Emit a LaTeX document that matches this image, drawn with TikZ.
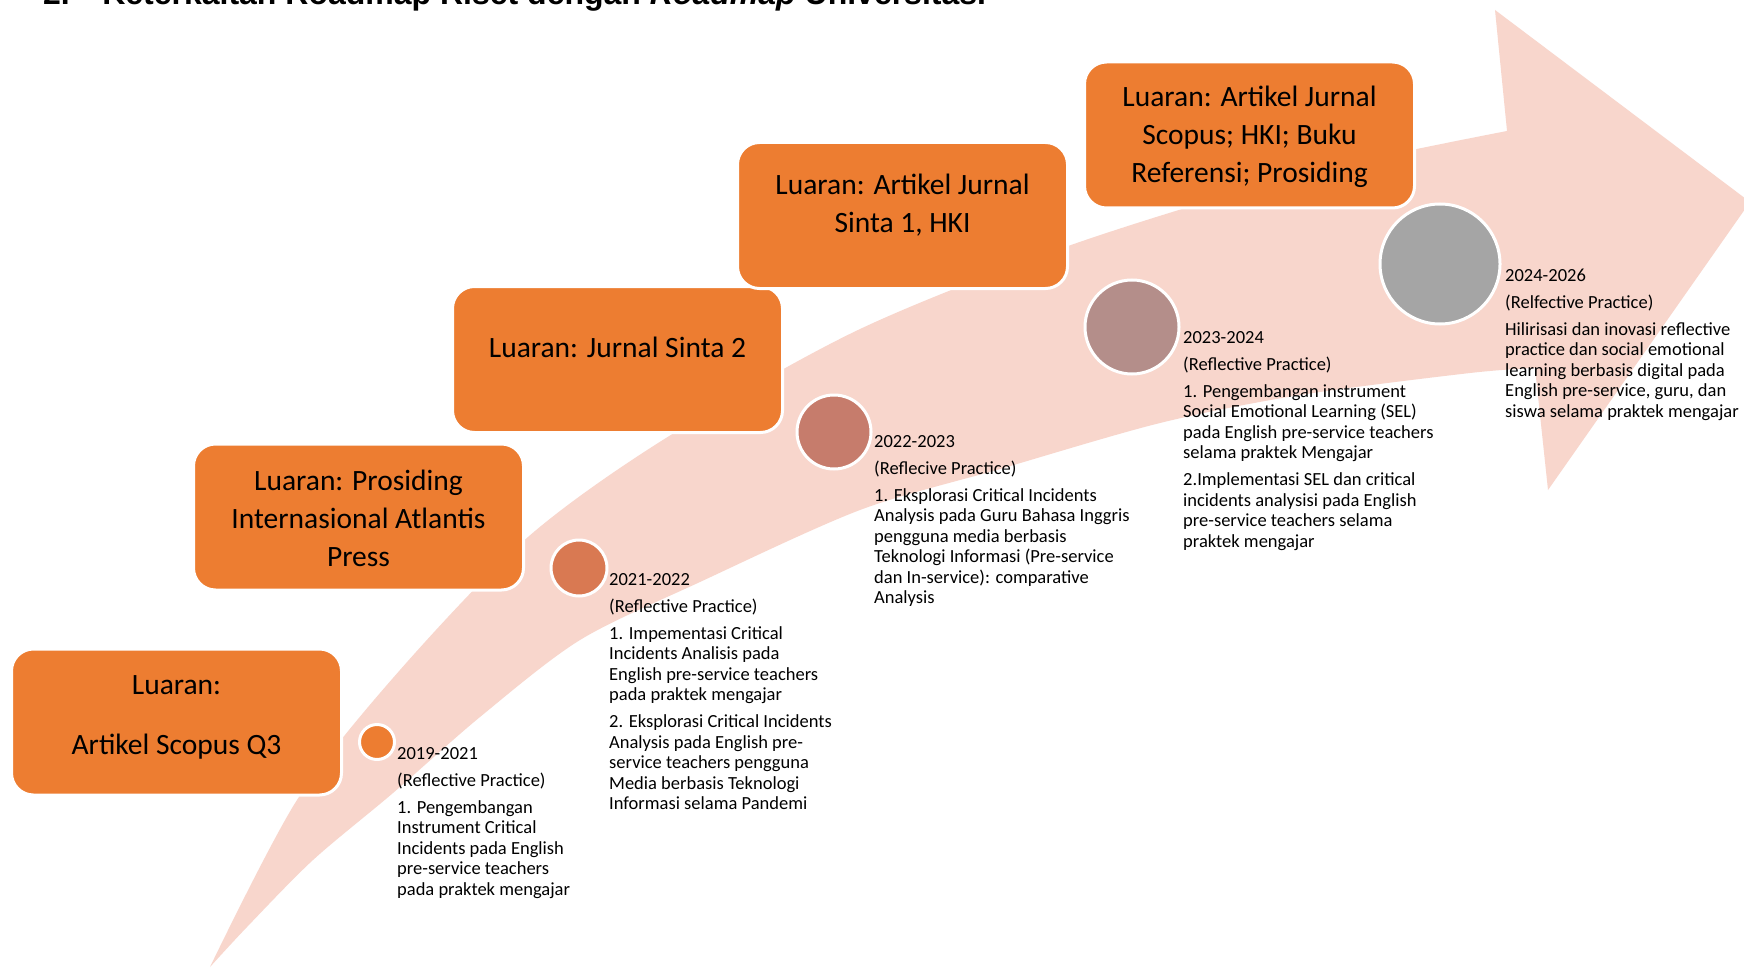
\documentclass[tikz,border=0pt]{standalone}
\usepackage{fontspec}
\setmainfont{Carlito}
\newfontfamily\arialf{Liberation Sans}
\definecolor{arrowpink}{RGB}{248,214,204}
\definecolor{boxorange}{RGB}{237,125,49}
\definecolor{cA}{RGB}{237,125,49}
\definecolor{cB}{RGB}{217,121,82}
\definecolor{cC}{RGB}{198,124,108}
\definecolor{cD}{RGB}{180,142,138}
\definecolor{cE}{RGB}{165,165,165}
\newcommand{\ctrln}[1]{\hbox to 0pt{\hss #1\hss}}
\newcommand{\lftln}[1]{\hbox{#1}}
\newcommand{\pgap}{\vskip6.5pt}
\begin{document}
\begin{tikzpicture}[x=1pt,y=-1pt,
  outbox/.style={draw=white, line width=3pt, fill=boxorange, rounded corners=22pt,
    minimum width=330pt, minimum height=146pt, inner sep=0pt},
  dot/.style={circle, draw=white, line width=3pt, inner sep=0pt},
  boxtext/.style={inner sep=0pt, anchor=base, font=\fontsize{29.5}{38}\selectfont},
  smalltext/.style={inner sep=0pt, anchor=base west, font=\fontsize{18.5}{20.5}\selectfont}]
\useasboundingbox (0,0) rectangle (1744,968);
\clip (0,0) rectangle (1744,968);
\fill[white] (0,0) rectangle (1744,968);
% title (cut off at top)
\node[inner sep=0pt, anchor=base west, font=\arialf\bfseries\fontsize{32}{38}\selectfont] (title) at (43,5)
  {2.\hspace{32.4pt}Keterkaitan Roadmap Riset dengan \textit{Roadmap} Universitas.};
% big curved arrow
\fill[arrowpink] plot[smooth, tension=0.5] coordinates {(210,967) (297,800) (400,670) (528,537) (666,438) (858,330) (1071,245) (1300,175) (1507,131)}
  -- (1495,10) -- (1750,202) -- (1548,490) -- (1535,368)
  -- plot[smooth, tension=0.5] coordinates {(1535,368) (1470,373) (1300,395) (1160,423) (1000,469) (860,510) (700,582) (580,640) (480,717) (393,793) (313,860) (247,927) (210,967)} -- cycle;
% boxes
\node[outbox] (b1) at (176.5,722) {};
\node[outbox] (b2) at (358.5,517) {};
\node[outbox] (b3) at (617.5,359.5) {};
\node[outbox] (b4) at (902.5,215.5) {};
\node[outbox] (b5) at (1249.5,135) {};
\node[boxtext] (b1t) at (176.5,694) {\vtop{\baselineskip=60pt \ctrln{Luaran:}\ctrln{Artikel Scopus Q3}}};
\node[boxtext] (b2t) at (358.5,490) {\vtop{\baselineskip=38pt \ctrln{Luaran: Prosiding}\ctrln{Internasional Atlantis}\ctrln{Press}}};
\node[boxtext] (b3t) at (617.5,357) {Luaran: Jurnal Sinta 2};
\node[boxtext] (b4t) at (902.5,195) {\vtop{\baselineskip=38pt \ctrln{Luaran: Artikel Jurnal}\ctrln{Sinta 1, HKI}}};
\node[boxtext] (b5t) at (1249.5,107) {\vtop{\baselineskip=38pt \ctrln{Luaran: Artikel Jurnal}\ctrln{Scopus; HKI; Buku}\ctrln{Referensi; Prosiding}}};
% circles
\node[dot, fill=cA, minimum size=35pt] (c1) at (377,742) {};
\node[dot, fill=cB, minimum size=56pt] (c2) at (579,568) {};
\node[dot, fill=cC, minimum size=74pt] (c3) at (834,432) {};
\node[dot, fill=cD, minimum size=94pt] (c4) at (1132,327) {};
\node[dot, fill=cE, minimum size=120pt] (c5) at (1440,264) {};
% descriptions
\node[smalltext] (t1) at (397,759) {\vtop{\baselineskip=20.5pt
  \lftln{2019-2021}\pgap\lftln{(Reflective Practice)}\pgap
  \lftln{1. Pengembangan}\lftln{Instrument Critical}\lftln{Incidents pada English}\lftln{pre-service teachers}\lftln{pada praktek mengajar}}};
\node[smalltext] (t2) at (609,585) {\vtop{\baselineskip=20.5pt
  \lftln{2021-2022}\pgap\lftln{(Reflective Practice)}\pgap
  \lftln{1. Impementasi Critical}\lftln{Incidents Analisis pada}\lftln{English pre-service teachers}\lftln{pada praktek mengajar}\pgap
  \lftln{2. Eksplorasi Critical Incidents}\lftln{Analysis pada English pre-}\lftln{service teachers pengguna}\lftln{Media berbasis Teknologi}\lftln{Informasi selama Pandemi}}};
\node[smalltext] (t3) at (874,447) {\vtop{\baselineskip=20.5pt
  \lftln{2022-2023}\pgap\lftln{(Reflecive Practice)}\pgap
  \lftln{1. Eksplorasi Critical Incidents}\lftln{Analysis pada Guru Bahasa Inggris}\lftln{pengguna media berbasis}\lftln{Teknologi Informasi (Pre-service}\lftln{dan In-service): comparative}\lftln{Analysis}}};
\node[smalltext] (t4) at (1183,343) {\vtop{\baselineskip=20.5pt
  \lftln{2023-2024}\pgap\lftln{(Reflective Practice)}\pgap
  \lftln{1. Pengembangan instrument}\lftln{Social Emotional Learning (SEL)}\lftln{pada English pre-service teachers}\lftln{selama praktek Mengajar}\pgap
  \lftln{2.Implementasi SEL dan critical}\lftln{incidents analysisi pada English}\lftln{pre-service teachers selama}\lftln{praktek mengajar}}};
\node[smalltext] (t5) at (1505,281) {\vtop{\baselineskip=20.5pt
  \lftln{2024-2026}\pgap\lftln{(Relfective Practice)}\pgap
  \lftln{Hilirisasi dan inovasi reflective}\lftln{practice dan social emotional}\lftln{learning berbasis digital pada}\lftln{English pre-service, guru, dan}\lftln{siswa selama praktek mengajar}}};
\end{tikzpicture}
\end{document}
